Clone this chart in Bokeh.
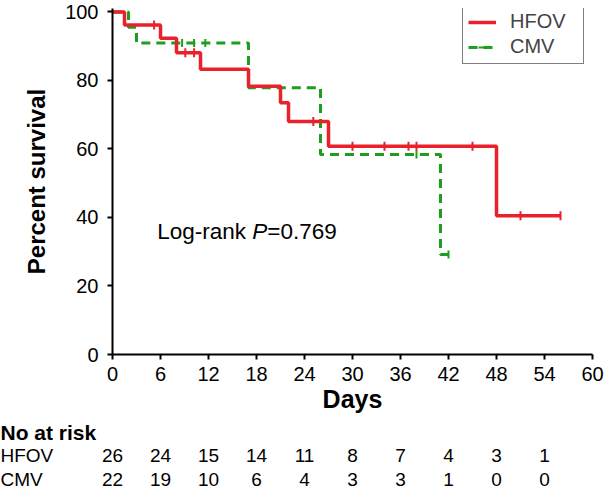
from math import pi
from bokeh.plotting import figure
from bokeh.layouts import column
from bokeh.models import Range1d, Legend, LegendItem, Label, FixedTicker, ColumnDataSource
from bokeh.core.properties import value
from bokeh.embed import file_html
from bokeh.resources import INLINE

# ---- data ----
hfov_times = [0, 1.5, 6, 8, 11, 17, 21, 22, 27, 48, 56]
hfov_surv = [100, 96.2, 92.3, 88.1, 83.3, 78.3, 73.5, 68.0, 60.8, 40.5, 40.5]
hfov_cens_t = [5.2, 9.1, 10.2, 25.1, 30, 34, 37, 38, 45, 51, 56]
hfov_cens_s = [96.2, 88.1, 88.1, 68.0, 60.8, 60.8, 60.8, 60.8, 60.8, 40.5, 40.5]

cmv_times = [0, 2, 3, 17, 26, 41, 42]
cmv_surv = [100, 95.5, 90.9, 77.9, 58.4, 29.2, 29.2]
cmv_cens_t = [8.7, 10.2, 11.6, 38, 42]
cmv_cens_s = [90.9, 90.9, 90.9, 58.4, 29.2]

x_ticks = [0, 6, 12, 18, 24, 30, 36, 42, 48, 54, 60]
y_ticks = [0, 20, 40, 60, 80, 100]

risk_days = [0, 6, 12, 18, 24, 30, 36, 42, 48, 54]
hfov_risk = [26, 24, 15, 14, 11, 8, 7, 4, 3, 1]
cmv_risk = [22, 19, 10, 6, 4, 3, 3, 1, 0, 0]
groups = ["HFOV", "CMV"]
risk_title = "No at risk"

RED = "#E8212B"
GREEN = "#1E9E1E"
FONT = "Liberation Sans"

# ---- geometry (pixels) ----
W, H = 604, 491
LEFT, RIGHT, TOP = 112, 12, 8
Y_AXIS_PX = 354
MAIN_H = 420
X0, X1 = 0, 60
Y0, Y1 = 0, 101
px_per_day = (W - LEFT - RIGHT) / (X1 - X0)

p = figure(width=W, height=MAIN_H, x_range=Range1d(X0, X1), y_range=Range1d(Y0, Y1),
           toolbar_location=None, output_backend="svg",
           min_border_left=LEFT, min_border_right=RIGHT, min_border_top=TOP,
           min_border_bottom=MAIN_H - Y_AXIS_PX)
p.outline_line_color = None
p.grid.visible = False

for ax in (p.xaxis[0], p.yaxis[0]):
    ax.axis_line_width = 2
    ax.axis_line_color = "black"
    ax.major_tick_line_width = 2
    ax.major_tick_line_color = "black"
    ax.major_tick_out = 5
    ax.major_tick_in = 0
    ax.minor_tick_line_color = None
    ax.major_label_text_font = FONT
    ax.major_label_text_font_size = "20px"
    ax.major_label_text_color = "black"
    ax.axis_label_text_font = FONT
    ax.axis_label_text_font_style = "bold"
    ax.axis_label_text_color = "black"

p.xaxis.ticker = FixedTicker(ticks=x_ticks)
p.yaxis.ticker = FixedTicker(ticks=y_ticks)
p.xaxis.axis_label = "Days"
p.yaxis.axis_label = "Percent survival"
p.xaxis.axis_label_text_font_size = "25px"
p.yaxis.axis_label_text_font_size = "24px"
p.xaxis.major_label_standoff = 7
p.yaxis.major_label_standoff = 9
p.xaxis.axis_label_standoff = 1
p.yaxis.axis_label_standoff = 12

r_cmv = p.step(cmv_times, cmv_surv, mode="after", line_color=GREEN, line_width=3,
               line_dash="9 6")
r_cmv_c = p.scatter(cmv_cens_t, cmv_cens_s, marker="dash", angle=pi / 2, size=8,
                    line_color=GREEN, line_width=2)
r_hfov = p.step(hfov_times, hfov_surv, mode="after", line_color=RED, line_width=3.5)
r_hfov_c = p.scatter(hfov_cens_t, hfov_cens_s, marker="dash", angle=pi / 2, size=9,
                     line_color=RED, line_width=2)

legend = Legend(items=[LegendItem(label=groups[0], renderers=[r_hfov, r_hfov_c]),
                       LegendItem(label=groups[1], renderers=[r_cmv, r_cmv_c])],
                location=(350, 290), border_line_color="black", border_line_width=1.5,
                padding=5, spacing=2, glyph_width=28, glyph_height=20, label_height=20,
                label_standoff=14, label_width=68, label_text_font=FONT,
                label_text_font_size="20px", margin=0, background_fill_alpha=1)
p.add_layout(legend)

lx, ly = 5.6, 35.9
common = dict(x=lx, y=ly, text_font=FONT, text_font_size="22.5px",
              text_baseline="middle", text_color="black")
p.add_layout(Label(text="Log-rank", x_offset=0, **common))
p.add_layout(Label(text="P", x_offset=95, text_font_style="italic", **common))
p.add_layout(Label(text="=0.769", x_offset=110, **common))

# ---- number-at-risk table: separate figure, same horizontal mapping ----
TAB_H = H - MAIN_H
t_x0 = X0 - LEFT / px_per_day
t_x1 = X1 + RIGHT / px_per_day
ROW_PITCH = 23.25
ROW0_PX = 12
t_y_top = -ROW0_PX / ROW_PITCH
t_y_bot = t_y_top + TAB_H / ROW_PITCH

t = figure(width=W, height=TAB_H, x_range=Range1d(t_x0, t_x1),
           y_range=Range1d(t_y_bot, t_y_top),
           toolbar_location=None, output_backend="svg", x_axis_location=None,
           y_axis_location=None, min_border_left=0, min_border_right=0,
           min_border_top=0, min_border_bottom=0)
t.frame_align = False
t.outline_line_color = None
t.grid.visible = False

t.text(x=[t_x0], y=[0], text=[risk_title], text_font=value(FONT), text_font_style="bold",
       text_font_size="21px", text_baseline="middle", text_align="left", text_color="black")
t.text(x=[t_x0, t_x0], y=[1, 2], text=groups, text_font=value(FONT), text_font_size="19px",
       text_baseline="middle", text_align="left", text_color="black")
src = ColumnDataSource(dict(
    x=risk_days + risk_days,
    y=[1] * len(risk_days) + [2] * len(risk_days),
    n=[str(v) for v in hfov_risk + cmv_risk]))
t.text(x="x", y="y", text="n", source=src, text_font=value(FONT), text_font_size="19px",
       text_baseline="middle", text_align="center", text_color="black")

layout = column(p, t, spacing=0)
open("out.html", "w").write(file_html(layout, INLINE))
